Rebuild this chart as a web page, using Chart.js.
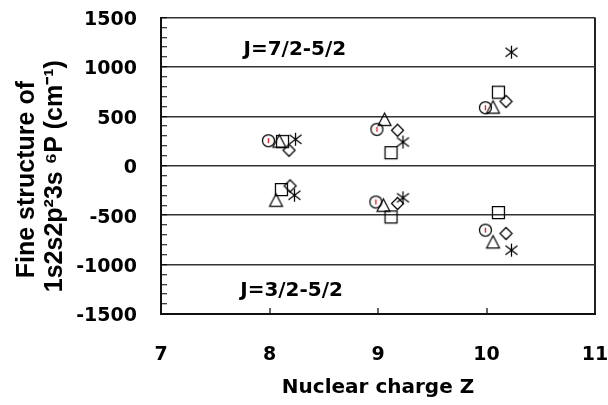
<!DOCTYPE html>
<html><head><meta charset="utf-8">
<script src="https://cdn.jsdelivr.net/npm/chart.js@4"></script>
<style>html,body{margin:0;padding:0;background:#fff;overflow:hidden}#wrap{width:608px;height:405px;position:relative}</style>
</head><body><div id="wrap"><canvas id="c" width="608" height="405"></canvas></div>
<script>
// ---- data ----
const zCircle   = [7.99, 8.99, 9.99, 8.98, 9.99];
const fsCircle  = [254, 369, 588, -366, -651];
const zTriangle = [8.09, 9.06, 10.06, 8.06, 9.05, 10.06];
const fsTriangle= [250, 470, 594, -348, -399, -770];
const zSquare   = [8.12, 9.12, 10.11, 8.11, 9.12, 10.11];
const fsSquare  = [247, 133, 745, -240, -517, -473];
const zDiamond  = [8.18, 9.18, 10.18, 8.19, 9.18, 10.18];
const fsDiamond = [157, 359, 651, -204, -382, -685];
const zStar     = [8.24, 9.23, 10.23, 8.23, 9.23, 10.23];
const fsStar    = [268, 240, 1149, -298, -325, -854];

const xTickValues = [7, 8, 9, 10, 11];
const xTickLabels = ['7', '8', '9', '10', '11'];
const yTickValues = [-1500, -1000, -500, 0, 500, 1000, 1500];
const yTickLabels = ['-1500', '-1000', '-500', '0', '500', '1000', '1500'];

const xTitle = 'Nuclear charge Z';
const yTitle = ['Fine structure of\u00a0\u00a0\u00a0\u00a0', '1s2s2p\u00b23s \u2076P (cm\u207b\u00b9)\u00a0\u00a0\u00a0'];
const noteTexts = ['J=7/2-5/2', 'J=3/2-5/2'];
const noteZ = [7.76, 7.73];
const noteV = [1171, -1262];

// ---- marker glyphs ----
function marker(kind) {
  const s = 17, c = document.createElement('canvas');
  c.width = s; c.height = s;
  const g = c.getContext('2d'), m = s / 2;
  g.strokeStyle = '#000'; g.lineWidth = 1.25;
  g.beginPath();
  if (kind === 'circle') {
    g.arc(m, m, 6, 0, 2 * Math.PI); g.stroke();
    g.beginPath(); g.strokeStyle = '#e31a1c'; g.lineWidth = 1.4;
    g.moveTo(m, m - 2.5); g.lineTo(m, m + 2.5); g.stroke();
    return c;
  }
  if (kind === 'triangle') { g.moveTo(m, m - 6.2); g.lineTo(m + 6.4, m + 6); g.lineTo(m - 6.4, m + 6); g.closePath(); }
  if (kind === 'square') { g.rect(m - 6, m - 6, 12, 12); }
  if (kind === 'diamond') { g.moveTo(m, m - 6); g.lineTo(m + 6, m); g.lineTo(m, m + 6); g.lineTo(m - 6, m); g.closePath(); }
  if (kind === 'star') {
    g.moveTo(m, m - 6.5); g.lineTo(m, m + 6.5);
    g.moveTo(m - 6, m - 4.5); g.lineTo(m + 6, m + 4.5);
    g.moveTo(m - 6, m + 4.5); g.lineTo(m + 6, m - 4.5);
  }
  g.stroke();
  return c;
}

const series = [
  {name: 'circle', z: zCircle, v: fsCircle},
  {name: 'triangle', z: zTriangle, v: fsTriangle},
  {name: 'square', z: zSquare, v: fsSquare},
  {name: 'diamond', z: zDiamond, v: fsDiamond},
  {name: 'star', z: zStar, v: fsStar}
];

const notes = {
  id: 'notes',
  afterDatasetsDraw(chart) {
    const {ctx, scales: {x, y}} = chart;
    ctx.save();
    ctx.font = 'bold 20px "DejaVu Sans"';
    ctx.fillStyle = '#000';
    ctx.textAlign = 'left';
    ctx.textBaseline = 'middle';
    noteTexts.forEach((t, i) => ctx.fillText(t, x.getPixelForValue(noteZ[i]), y.getPixelForValue(noteV[i])));
    ctx.restore();
  }
};

const tickFont = {family: '"DejaVu Sans"', size: 19, weight: 'bold'};
const clear = 'rgba(0,0,0,0)';

new Chart(document.getElementById('c'), {
  type: 'scatter',
  data: {
    datasets: series.map(s => ({
      label: s.name,
      data: s.z.map((z, i) => ({x: z, y: s.v[i]})),
      pointStyle: marker(s.name),
      pointRadius: 6,
      showLine: false
    }))
  },
  options: {
    responsive: false,
    animation: false,
    layout: {padding: {top: 17.5, right: 13, left: 0, bottom: 0}},
    plugins: {legend: {display: false}, tooltip: {enabled: false}},
    scales: {
      x: {
        type: 'linear', min: 7, max: 11,
        ticks: {
          stepSize: 1, autoSkip: false, maxRotation: 0, padding: 36, color: '#000', font: tickFont,
          callback: v => { const i = xTickValues.indexOf(v); return i >= 0 ? xTickLabels[i] : ''; }
        },
        grid: {
          drawOnChartArea: true,
          color: c => (c.tick && c.tick.value === 11) ? '#222' : clear,
          lineWidth: 2,
          drawTicks: true, tickLength: -6,
          tickColor: c => (c.tick && c.tick.value > 7 && c.tick.value < 11) ? '#000' : clear,
          tickWidth: 1.2
        },
        border: {display: true, color: '#111', width: 2},
        title: {display: true, text: xTitle, color: '#000',
          font: {family: '"DejaVu Sans"', size: 20, weight: 'bold', lineHeight: 1.2},
          padding: {top: 0, bottom: 5}},
        afterFit: s => { s.height = 91; s.paddingLeft = 0; s.paddingRight = 0; }
      },
      y: {
        type: 'linear', min: -1500, max: 1500,
        ticks: {
          stepSize: 100, autoSkip: false, padding: 30, labelOffset: 2.5, color: '#000', font: tickFont,
          callback: v => { const i = yTickValues.indexOf(v); return i >= 0 ? yTickLabels[i] : ''; }
        },
        grid: {
          drawOnChartArea: true,
          color: c => (c.tick && yTickValues.indexOf(c.tick.value) >= 0) ? '#333' : clear,
          lineWidth: 1.5,
          drawTicks: true, tickLength: -6,
          tickColor: '#000', tickWidth: 1
        },
        border: {display: true, color: '#111', width: 2},
        title: {display: true, text: yTitle, color: '#000',
          font: {family: '"Liberation Sans", Arial, sans-serif', size: 25, weight: 'bold', lineHeight: '28px'},
          padding: {top: 13, bottom: 0}},
        afterFit: s => { s.width = 161; s.paddingTop = 0; s.paddingBottom = 0; }
      }
    }
  },
  plugins: [notes]
});
</script></body></html>
